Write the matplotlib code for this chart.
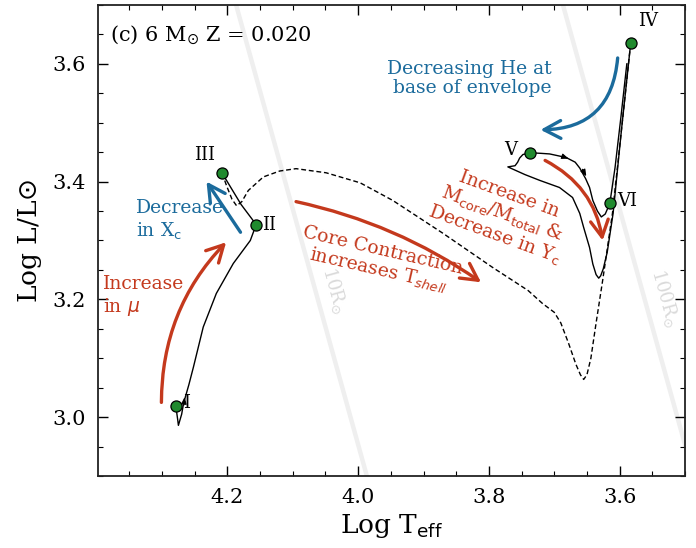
import numpy as np
import matplotlib
matplotlib.use('Agg')
import matplotlib.pyplot as plt
from matplotlib.ticker import MultipleLocator

plt.rcParams['font.family'] = ['DejaVu Serif', 'DejaVu Sans']
plt.rcParams['mathtext.fontset'] = 'dejavusans'

RED = '#c4391d'
BLUE = '#1b6b9c'
LOG_TSUN = 3.7617

# main sequence + hook, I -> II -> III
ms_logt = [4.279, 4.276, 4.275, 4.270, 4.267, 4.259, 4.252, 4.237, 4.217, 4.191,
           4.165, 4.156, 4.179, 4.203, 4.208]
ms_logl = [3.019, 2.995, 2.986, 3.005, 3.024, 3.055, 3.085, 3.153, 3.210, 3.261,
           3.300, 3.327, 3.361, 3.405, 3.414]

# Hertzsprung gap crossing and red giant branch up to IV (fast phases, dashed)
gap_logt = [4.208, 4.201, 4.193, 4.186, 4.178, 4.168, 4.145, 4.120, 4.095, 4.049,
            3.997, 3.947, 3.870, 3.794, 3.740, 3.718, 3.700, 3.690, 3.678, 3.667,
            3.660, 3.655, 3.650, 3.644, 3.636, 3.626, 3.611, 3.597, 3.583]
gap_logl = [3.414, 3.392, 3.370, 3.359, 3.366, 3.385, 3.408, 3.418, 3.422, 3.415,
            3.398, 3.368, 3.312, 3.254, 3.215, 3.193, 3.178, 3.160, 3.125, 3.090,
            3.072, 3.064, 3.072, 3.100, 3.160, 3.232, 3.346, 3.490, 3.636]

# core He burning blue loop, IV -> V -> VI -> early AGB
loop_logt = [3.583, 3.597, 3.610, 3.619, 3.625, 3.629, 3.632, 3.636, 3.641, 3.646,
             3.655, 3.661, 3.672, 3.692, 3.722, 3.745, 3.771, 3.760, 3.756, 3.753,
             3.748, 3.737, 3.720, 3.707, 3.682, 3.668, 3.661, 3.652, 3.646, 3.641,
             3.634, 3.628, 3.622, 3.615, 3.607, 3.598, 3.589]
loop_logl = [3.636, 3.490, 3.346, 3.280, 3.252, 3.240, 3.236, 3.242, 3.260, 3.288,
             3.322, 3.346, 3.373, 3.390, 3.402, 3.412, 3.425, 3.427, 3.433, 3.440,
             3.446, 3.449, 3.448, 3.447, 3.441, 3.433, 3.423, 3.405, 3.390, 3.368,
             3.350, 3.340, 3.345, 3.363, 3.424, 3.510, 3.600]

stage_names = ['I', 'II', 'III', 'IV', 'V', 'VI']
stage_logt = [4.279, 4.156, 4.208, 3.583, 3.737, 3.615]
stage_logl = [3.019, 3.327, 3.414, 3.636, 3.449, 3.363]
stage_offsets = [(5, 2), (4, 0), (-20, 7), (5, 9), (-19, 2), (5, 2)]

radii = [10, 100]
radius_label_logt = [4.036, 3.531]
radius_label_logl = [3.215, 3.203]

# small direction markers along the tracks: (from, to)
dir_marks = [((4.2668, 3.020), (4.2655, 3.034)),
             ((3.688, 3.443), (3.678, 3.439)),
             ((3.657, 3.421), (3.651, 3.409))]

fig = plt.figure(figsize=(6.96, 5.48), dpi=100)
ax = fig.add_axes([0.1408, 0.1314, 0.8434, 0.8595])

# lines of constant radius
t_line = np.linspace(3.3, 4.6, 50)
for r in radii:
    ax.plot(t_line, 2 * np.log10(r) + 4 * (t_line - LOG_TSUN), color='#efefef', lw=3.2, zorder=0)
for r, lt, ll in zip(radii, radius_label_logt, radius_label_logl):
    ax.text(lt, ll, '%dR$_{\\odot}$' % r, color='#dadada', fontsize=13, rotation=-74.5,
            ha='center', va='center', zorder=0)

ax.plot(ms_logt, ms_logl, color='k', lw=1.0, zorder=3)
ax.plot(gap_logt, gap_logl, color='k', lw=1.0, ls=(0, (3.5, 2)), zorder=3)
ax.plot(loop_logt, loop_logl, color='k', lw=1.0, zorder=3)

for a, b in dir_marks:
    ax.annotate('', xy=b, xytext=a,
                arrowprops=dict(arrowstyle='-|>,head_length=0.5,head_width=0.2', color='k',
                                lw=0.8, mutation_scale=8, shrinkA=0, shrinkB=0), zorder=3)

ax.plot(stage_logt, stage_logl, 'o', ms=8, mfc='#208a2e', mec='k', mew=0.9, zorder=5)
for name, lt, ll, off in zip(stage_names, stage_logt, stage_logl, stage_offsets):
    ax.annotate(name, (lt, ll), xytext=off, textcoords='offset points', fontsize=13,
                ha='left', va='bottom' if off[1] > 4 else 'center', zorder=6)

# physics annotations
arrow_kw = dict(arrowstyle='->,head_length=0.6,head_width=0.32', lw=2.4,
                mutation_scale=20, shrinkA=0, shrinkB=0)
fs = 13.5

ax.annotate('', xy=(4.202, 3.297), xytext=(4.301, 3.025),
            arrowprops=dict(color=RED, connectionstyle='arc3,rad=-0.2', **arrow_kw))
ax.text(4.391, 3.205, 'Increase\nin $\\mu$', color=RED, fontsize=fs, ha='left', va='center')

ax.annotate('', xy=(4.232, 3.400), xytext=(4.180, 3.314),
            arrowprops=dict(color=BLUE, **arrow_kw))
ax.text(4.340, 3.334, 'Decrease\nin X$_{\\rm c}$', color=BLUE, fontsize=fs, ha='left',
        va='center')

ax.annotate('', xy=(3.812, 3.229), xytext=(4.095, 3.366),
            arrowprops=dict(color=RED, connectionstyle='arc3,rad=-0.1', **arrow_kw))
ax.text(3.966, 3.264, 'Core Contraction\nincreases T$_{shell}$', color=RED, fontsize=fs,
        ha='center', va='center', rotation=-13, rotation_mode='anchor', multialignment='center',
        linespacing=1.05)

ax.annotate('', xy=(3.626, 3.300), xytext=(3.714, 3.436),
            arrowprops=dict(color=RED, connectionstyle='arc3,rad=-0.25', **arrow_kw))
ax.text(3.781, 3.343, 'Increase in\nM$_{\\rm core}$/M$_{\\rm total}$ &\nDecrease in Y$_{\\rm c}$',
        color=RED, fontsize=fs, ha='center', va='center', rotation=-20, rotation_mode='anchor',
        multialignment='center', linespacing=1.05)

ax.annotate('', xy=(3.721, 3.488), xytext=(3.603, 3.610),
            arrowprops=dict(color=BLUE, connectionstyle='arc3,rad=-0.45', **arrow_kw))
ax.text(3.704, 3.575, 'Decreasing He at\nbase of envelope', color=BLUE, fontsize=fs,
        ha='right', va='center', multialignment='right', linespacing=1.1)

ax.text(0.02, 0.935, '(c) 6 M$_{\\odot}$ Z = 0.020', transform=ax.transAxes, fontsize=15,
        ha='left', va='center')

ax.set_xlim(4.398, 3.5)
ax.set_ylim(2.9, 3.7)
ax.xaxis.set_major_locator(MultipleLocator(0.2))
ax.xaxis.set_minor_locator(MultipleLocator(0.05))
ax.yaxis.set_major_locator(MultipleLocator(0.2))
ax.yaxis.set_minor_locator(MultipleLocator(0.05))
ax.tick_params(which='both', direction='in', top=True, right=True, labelsize=15, pad=9)
ax.tick_params(which='major', length=7, width=1.0)
ax.tick_params(which='minor', length=3.5, width=0.8)
for s in ax.spines.values():
    s.set_linewidth(1.3)
    s.set_color('#222222')

ax.set_xlabel('Log T$_{\\rm eff}$', fontsize=19, labelpad=3)
ax.set_ylabel('Log L/L$\\odot$', fontsize=19, labelpad=6)

fig.savefig('out.png', dpi=100)
